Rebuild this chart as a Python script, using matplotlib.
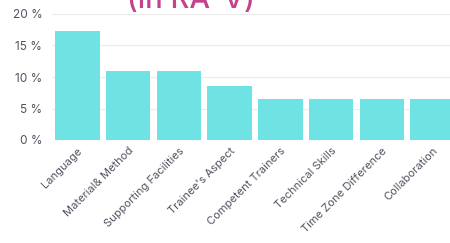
import matplotlib
matplotlib.use("Agg")
import matplotlib.pyplot as plt
import numpy as np

categories = ["Language", "Material& Method", "Supporting Facilities", "Trainee's Aspect",
              "Competent Trainers", "Technical Skills", "Time Zone Difference", "Collaboration"]
values = [17.3, 10.9, 10.9, 8.6, 6.5, 6.5, 6.5, 6.5]
yticks = [0, 5, 10, 15, 20]
ytick_labels = ["0 %", "5 %", "10 %", "15 %", "20 %"]
title = "(in RA-V)"

plt.rcParams['font.family'] = ['Inter', 'DejaVu Sans']
fig = plt.figure(figsize=(4.5, 2.43), dpi=100)
ax = fig.add_axes([52/450, 103/243, 406/450, 126/243])

x = np.arange(len(categories))
ax.bar(x, values, width=0.88, color="#6fe3e4", zorder=2)
ax.set_xlim(-0.5, len(categories) - 0.5)
ax.set_ylim(0, 20)
ax.set_yticks(yticks)
ax.set_yticklabels(ytick_labels)
ax.set_xticks(x)
ax.set_xticklabels(categories, rotation=45, ha="right", rotation_mode="anchor")
ax.tick_params(axis="both", length=0, colors="#525260")
ax.tick_params(axis="y", pad=7, labelsize=8.5)
ax.tick_params(axis="x", pad=4, labelsize=8)
ax.grid(axis="y", color="#ececec", linewidth=0.8, zorder=0)
for s in ax.spines.values():
    s.set_visible(False)

fig.text(0.425, 1 - 8/243, title, ha="center", va="baseline", fontsize=21,
         color="#c4428c", fontweight="medium")
fig.savefig("out.png", dpi=100)
